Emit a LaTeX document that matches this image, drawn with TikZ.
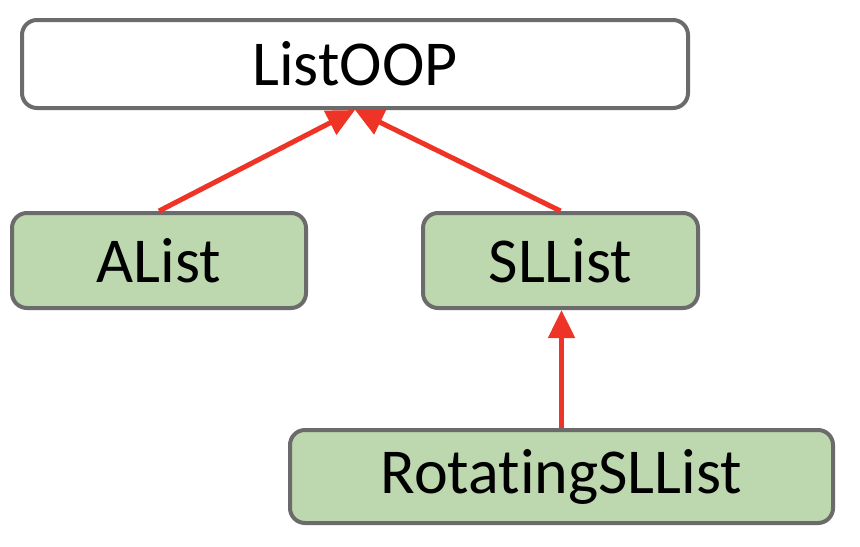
\documentclass[tikz,border=0pt]{standalone}
\usepackage{fontspec}
\setmainfont{Carlito}[Ligatures=NoCommon]
\usetikzlibrary{arrows.meta}
\begin{document}
\begin{tikzpicture}[x=0.5pt, y=-0.5pt, >={Triangle[length=14pt,width=13pt]}, line cap=round,
    cls/.style={draw=dgray, line width=2pt, rounded corners=7.5pt, fill=lgreen,
                font=\fontsize{32}{38}\selectfont, inner sep=0pt},
    inh/.style={->, draw=dred, line width=2.5pt, line cap=butt}]
  \definecolor{dgray}{HTML}{6B6B6B}
  \definecolor{lgreen}{HTML}{BDD7AF}
  \definecolor{dred}{HTML}{EE3426}
  \useasboundingbox (0,0) rectangle (860,546);
  % class boxes
  \node[cls, fill=white, minimum width=333pt, minimum height=44pt] (listoop) at (355,64) {ListOOP};
  \node[cls, minimum width=147pt, minimum height=47.5pt] (alist) at (159,260.5) {AList};
  \node[cls, minimum width=137.5pt, minimum height=47.5pt] (sllist) at (560.5,260.5) {SLList};
  \node[cls, minimum width=271.5pt, minimum height=46.5pt] (rotsllist) at (561.5,476.5) {RotatingSLList};
  % inheritance arrows
  \draw[inh] (alist.north) -- (listoop.south);
  \draw[inh] (sllist.north) -- (listoop.south);
  \draw[inh] (rotsllist.north) -- (rotsllist.north |- sllist.south);
\end{tikzpicture}
\end{document}
